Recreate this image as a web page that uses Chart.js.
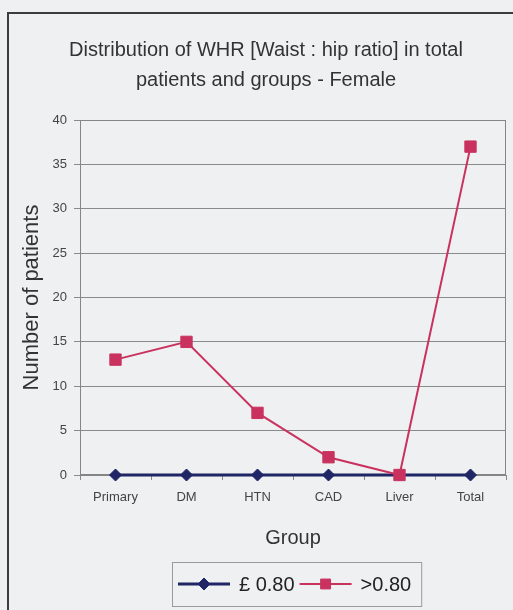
<!DOCTYPE html>
<html>
<head>
<meta charset="utf-8">
<script src="https://cdn.jsdelivr.net/npm/chart.js@4/dist/chart.umd.min.js"></script>
<style>
  html, body { margin: 0; padding: 0; background: #eff0f1; overflow: hidden; }
  #wrap { width: 513px; height: 610px; overflow: hidden; }
  canvas { display: block; }
</style>
</head>
<body>
<div id="wrap"><canvas id="whr" width="532" height="620"></canvas></div>
<script>
// WHR distribution, female patients, by group
const categories = ['Primary', 'DM', 'HTN', 'CAD', 'Liver', 'Total'];
const whrLow = [0, 0, 0, 0, 0, 0];        // ≤ 0.80
const whrHigh = [13, 15, 7, 2, 0, 37];    // > 0.80
const seriesNames = ['\u00A3 0.80', '>0.80'];
const titleLines = ['Distribution of WHR [Waist : hip ratio] in total', 'patients and groups - Female'];
const yMin = 0, yMax = 40, yStep = 5;

const BG = '#eff0f1';
const NAVY = '#1f2565';
const PINK = '#c9325f';
const FONT = "'Liberation Sans', Arial, sans-serif";

// Page background, outer frame (top and left edges) and the plot rectangle
const framePlugin = {
  id: 'frame',
  beforeDraw(chart) {
    const ctx = chart.ctx;
    ctx.save();
    ctx.fillStyle = BG;
    ctx.fillRect(0, 0, chart.width, chart.height);
    ctx.strokeStyle = '#3c3c3c';
    ctx.lineWidth = 2;
    ctx.beginPath();
    ctx.moveTo(8, chart.height);
    ctx.lineTo(8, 13);
    ctx.lineTo(chart.width, 13);
    ctx.stroke();
    ctx.restore();
  },
  beforeDatasetsDraw(chart) {
    const {ctx, chartArea: a} = chart;
    ctx.save();
    ctx.strokeStyle = '#858585';
    ctx.lineWidth = 1;
    ctx.strokeRect(a.left + 0.5, a.top + 0.5, a.right - a.left - 1, a.bottom - a.top - 1);
    ctx.restore();
  }
};

// Boxed legend under the axis title, centred on the plot
const boxLegend = {
  id: 'boxLegend',
  afterDraw(chart) {
    const {ctx, chartArea: a} = chart;
    const ds = chart.data.datasets.slice().sort((p, q) => p.legendIndex - q.legendIndex);
    ctx.save();
    ctx.font = '20px ' + FONT;
    const lineLen = 52, gapText = 9, gapItem = 5, padL = 6, padR = 10;
    let total = padL + padR;
    ds.forEach((d, i) => {
      total += lineLen + gapText + ctx.measureText(d.label).width + (i < ds.length - 1 ? gapItem : 0);
    });
    const boxH = 44;
    const cx = (a.left + a.right) / 2 + 4;
    const x0 = Math.round(cx - total / 2);
    const y0 = 562;
    const cy = y0 + boxH / 2;
    ctx.strokeStyle = '#9a9a9a';
    ctx.lineWidth = 1;
    ctx.strokeRect(x0 + 0.5, y0 + 0.5, total, boxH);
    let x = x0 + padL;
    ds.forEach((d) => {
      ctx.strokeStyle = d.borderColor;
      ctx.lineWidth = d.borderWidth;
      ctx.beginPath();
      ctx.moveTo(x, cy);
      ctx.lineTo(x + lineLen, cy);
      ctx.stroke();
      ctx.save();
      ctx.fillStyle = d.pointBackgroundColor;
      ctx.strokeStyle = d.pointBorderColor;
      ctx.lineWidth = 1;
      Chart.helpers.drawPoint(ctx, {
        pointStyle: d.pointStyle,
        radius: d.legendRadius,
        borderWidth: 1,
        rotation: 0
      }, x + lineLen / 2, cy);
      ctx.restore();
      ctx.fillStyle = '#222';
      ctx.textBaseline = 'middle';
      ctx.textAlign = 'left';
      ctx.fillText(d.label, x + lineLen + gapText, cy + 1);
      x += lineLen + gapText + ctx.measureText(d.label).width + gapItem;
    });
    ctx.restore();
  }
};

new Chart(document.getElementById('whr'), {
  type: 'line',
  data: {
    labels: categories,
    datasets: [
      {
        label: seriesNames[1],
        legendIndex: 1,
        data: whrHigh,
        borderColor: PINK,
        borderWidth: 2,
        pointStyle: 'rect',
        pointRadius: 8,
        pointHoverRadius: 8,
        legendRadius: 7,
        pointBackgroundColor: PINK,
        pointBorderColor: PINK,
        pointBorderWidth: 1,
        tension: 0,
        clip: false,
        order: 0
      },
      {
        label: seriesNames[0],
        legendIndex: 0,
        data: whrLow,
        borderColor: NAVY,
        borderWidth: 3,
        pointStyle: 'rectRot',
        pointRadius: 6,
        pointHoverRadius: 6,
        legendRadius: 6,
        pointBackgroundColor: NAVY,
        pointBorderColor: NAVY,
        pointBorderWidth: 1,
        tension: 0,
        clip: false,
        order: 1
      }
    ]
  },
  options: {
    responsive: false,
    animation: false,
    events: [],
    layout: { padding: { left: 0, right: 0, top: 0, bottom: 68 } },
    plugins: {
      legend: { display: false },
      tooltip: { enabled: false },
      title: {
        display: true,
        text: titleLines,
        color: '#333',
        font: { family: FONT, size: 20, weight: 'normal', lineHeight: 1.5 },
        padding: { top: 35, bottom: 25 }
      }
    },
    scales: {
      x: {
        type: 'category',
        offset: true,
        grid: {
          offset: true,
          drawOnChartArea: false,
          drawTicks: true,
          tickLength: 5,
          color: '#8a8a8a'
        },
        border: { display: true, color: '#858585', width: 1 },
        ticks: {
          color: '#444',
          padding: 10,
          font: { family: FONT, size: 13 },
          maxRotation: 0,
          autoSkip: false
        },
        title: {
          display: true,
          text: 'Group',
          color: '#333',
          font: { family: FONT, size: 20 },
          padding: { top: 0, bottom: 2 }
        },
        afterFit(scale) { scale.height = 77; }
      },
      y: {
        min: yMin,
        max: yMax,
        ticks: {
          stepSize: yStep,
          color: '#444',
          padding: 7,
          font: { family: FONT, size: 13 }
        },
        grid: {
          color: '#8a8a8a',
          lineWidth: 1,
          tickLength: 6,
          drawTicks: true
        },
        border: { display: true, color: '#858585', width: 1 },
        title: {
          display: true,
          text: 'Number of patients',
          color: '#333',
          font: { family: FONT, size: 22 },
          padding: { top: 19, bottom: 0 }
        },
        afterFit(scale) { scale.width = 80; }
      },
      // empty right-hand margin so the plot stops short of the frame
      yRight: {
        position: 'right',
        display: true,
        min: yMin,
        max: yMax,
        ticks: { display: false },
        grid: { display: false, drawTicks: false },
        border: { display: false },
        afterFit(scale) { scale.width = 26; }
      }
    }
  },
  plugins: [framePlugin, boxLegend]
});
</script>
</body>
</html>
